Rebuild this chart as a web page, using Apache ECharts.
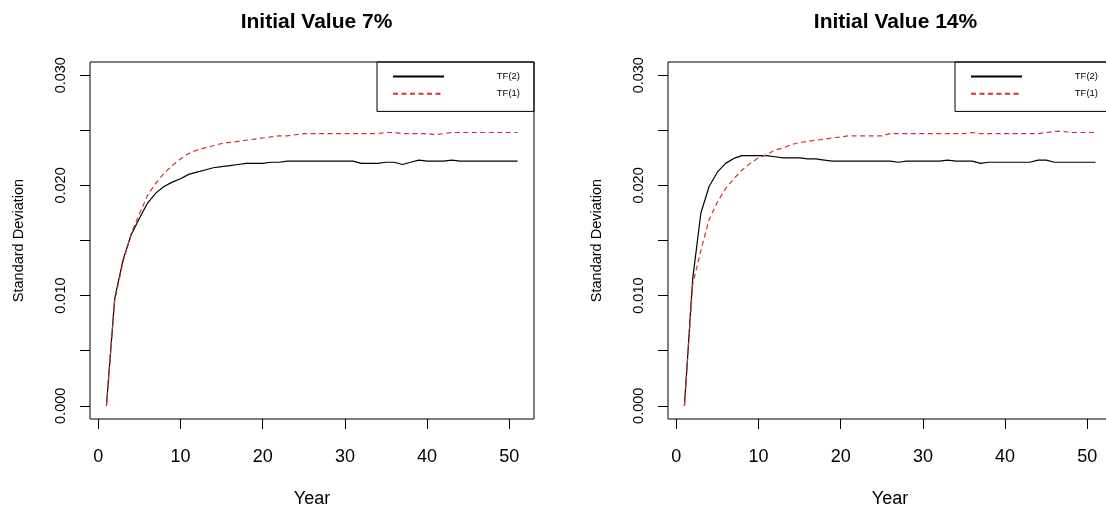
<!DOCTYPE html>
<html>
<head>
<meta charset="utf-8">
<script src="https://cdn.jsdelivr.net/npm/echarts@6/dist/echarts.min.js"></script>
<style>html,body{margin:0;padding:0;background:#fff}#c{width:1106px;height:511px}</style>
</head>
<body>
<div id="c"></div>
<script>
const years = Array.from({length: 51}, (_, i) => i + 1);
const titles = ['Initial Value 7%', 'Initial Value 14%'];
const seriesNames = ['TF(2)', 'TF(1)'];
const xTicks = [0, 10, 20, 30, 40, 50];
const yTicks = [0, 0.005, 0.01, 0.015, 0.02, 0.025, 0.03];
const yLabels = [0, 0.01, 0.02, 0.03];

const left_TF2 = [0, 0.0097, 0.0132, 0.0155, 0.0170, 0.0184, 0.0193, 0.0199, 0.0203, 0.0206,
  0.0210, 0.0212, 0.0214, 0.0216, 0.0217, 0.0218, 0.0219, 0.0220, 0.0220, 0.0220,
  0.0221, 0.0221, 0.0222, 0.0222, 0.0222, 0.0222, 0.0222, 0.0222, 0.0222, 0.0222,
  0.0222, 0.0220, 0.0220, 0.0220, 0.0221, 0.0221, 0.0219, 0.0221, 0.0223, 0.0222,
  0.0222, 0.0222, 0.0223, 0.0222, 0.0222, 0.0222, 0.0222, 0.0222, 0.0222, 0.0222, 0.0222];
const left_TF1 = [0, 0.0095, 0.0130, 0.0156, 0.0174, 0.0191, 0.0202, 0.0211, 0.0218, 0.0224,
  0.0229, 0.0232, 0.0234, 0.0236, 0.0238, 0.0239, 0.0240, 0.0241, 0.0242, 0.0243,
  0.0244, 0.0245, 0.0245, 0.0246, 0.0247, 0.0247, 0.0247, 0.0247, 0.0247, 0.0247,
  0.0247, 0.0247, 0.0247, 0.0247, 0.0248, 0.0248, 0.0247, 0.0247, 0.0247, 0.0247,
  0.0246, 0.0247, 0.0248, 0.0248, 0.0248, 0.0248, 0.0248, 0.0248, 0.0248, 0.0248, 0.0248];
const right_TF2 = [0, 0.0115, 0.0175, 0.0199, 0.0212, 0.0220, 0.02245, 0.0227, 0.0227, 0.0227,
  0.0227, 0.0226, 0.0225, 0.0225, 0.0225, 0.0224, 0.0224, 0.0223, 0.0222, 0.0222,
  0.0222, 0.0222, 0.0222, 0.0222, 0.0222, 0.0222, 0.0221, 0.0222, 0.0222, 0.0222,
  0.0222, 0.0222, 0.0223, 0.0222, 0.0222, 0.0222, 0.0220, 0.0221, 0.0221, 0.0221,
  0.0221, 0.0221, 0.0221, 0.0223, 0.0223, 0.0221, 0.0221, 0.0221, 0.0221, 0.0221, 0.0221];
const right_TF1 = [0, 0.0110, 0.0141, 0.0169, 0.0185, 0.0197, 0.0206, 0.0214, 0.0220, 0.0225,
  0.0228, 0.0232, 0.0234, 0.0237, 0.0239, 0.0240, 0.0241, 0.0242, 0.0243, 0.0244,
  0.0245, 0.0245, 0.0245, 0.0245, 0.0245, 0.0247, 0.0247, 0.0247, 0.0247, 0.0247,
  0.0247, 0.0247, 0.0247, 0.0247, 0.0247, 0.0248, 0.0247, 0.0247, 0.0247, 0.0247,
  0.0247, 0.0247, 0.0247, 0.0247, 0.0248, 0.0249, 0.0249, 0.0248, 0.0248, 0.0248, 0.0248];

const panels = [[left_TF2, left_TF1], [right_TF2, right_TF1]];
const FONT = 'Liberation Sans, Arial, sans-serif';
const RED = '#cd3333';
const gridLefts = [90, 668];
const centers = [311.5, 890.5];

const pairs = (ys) => years.map((x, i) => [x, ys[i]]);

const option = {
  animation: false,
  backgroundColor: '#fff',
  textStyle: {fontFamily: FONT},
  title: titles.map((t, i) => ({
    text: t, left: centers[i], top: 7, textAlign: 'center',
    textStyle: {fontFamily: FONT, fontSize: 21, fontWeight: 'bold', color: '#000'}
  })),
  grid: gridLefts.map(l => ({
    left: l, top: 62, width: 444, height: 357,
    outerBoundsMode: 'none', containLabel: false,
    show: true, borderColor: '#000', borderWidth: 1, backgroundColor: 'transparent'
  })),
  legend: gridLefts.map((l, i) => ({
    orient: 'vertical',
    left: l + 287, top: 62,
    padding: [9, 14, 12, 15],
    itemWidth: 51, itemHeight: 14, itemGap: 6,
    borderColor: '#000', borderWidth: 1,
    itemStyle: {color: 'transparent', borderWidth: 0, opacity: 0},
    data: seriesNames.map(n => ({name: n + (i ? ' ' : '')})),
    formatter: n => '{a|' + n.trim() + '}',
    textStyle: {rich: {a: {width: 71, align: 'right', fontSize: 9.5, fontFamily: FONT, color: '#000'}}}
  })),
  xAxis: gridLefts.map((l, i) => ({
    type: 'value', gridIndex: i, min: -1, max: 53,
    name: 'Year', nameLocation: 'middle', nameGap: 71,
    nameTextStyle: {fontSize: 18, color: '#000', fontFamily: FONT},
    axisLine: {show: false, onZero: false},
    splitLine: {show: false},
    axisTick: {show: true, inside: false, length: 10, customValues: xTicks, lineStyle: {color: '#000'}},
    axisLabel: {customValues: xTicks, margin: 29, fontSize: 18, color: '#000', fontFamily: FONT}
  })),
  yAxis: gridLefts.map((l, i) => ({
    type: 'value', gridIndex: i, min: -0.0012, max: 0.0312,
    name: 'Standard Deviation', nameLocation: 'middle', nameGap: 64,
    nameTextStyle: {fontSize: 14.5, color: '#000', fontFamily: FONT},
    axisLine: {show: false, onZero: false},
    splitLine: {show: false},
    axisTick: {show: true, inside: false, length: 10, customValues: yTicks, lineStyle: {color: '#000'}},
    axisLabel: {customValues: yLabels, rotate: 90, margin: 22, fontSize: 14.5, color: '#000', fontFamily: FONT,
      formatter: v => v.toFixed(3)}
  })),
  series: []
};

panels.forEach((p, i) => {
  option.series.push({
    name: seriesNames[0] + (i ? ' ' : ''), type: 'line', xAxisIndex: i, yAxisIndex: i,
    data: pairs(p[0]), symbol: 'none', color: '#000',
    lineStyle: {color: '#000', width: 1.2, type: 'solid'}
  });
  option.series.push({
    name: seriesNames[1] + (i ? ' ' : ''), type: 'line', xAxisIndex: i, yAxisIndex: i,
    data: pairs(p[1]), symbol: 'none', color: RED,
    lineStyle: {color: RED, width: 1.2, type: [5, 3.5]}
  });
});

const chart = echarts.init(document.getElementById('c'), null, {renderer: 'canvas'});
chart.setOption(option);
</script>
</body>
</html>
